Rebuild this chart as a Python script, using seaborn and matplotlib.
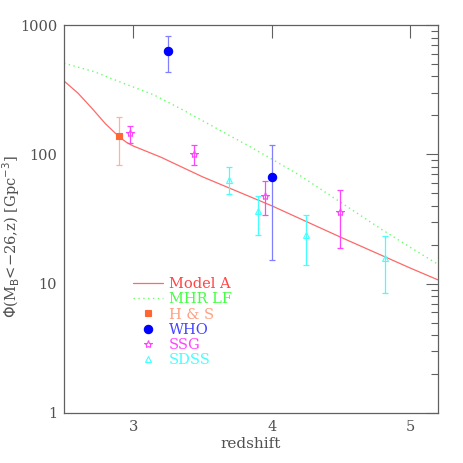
import matplotlib
matplotlib.use("Agg")
import matplotlib.pyplot as plt
import seaborn as sns
import numpy as np
import pandas as pd
from matplotlib.ticker import FixedLocator, NullFormatter, NullLocator

# ---- data ----
modelA_z = [2.5, 2.6, 2.7, 2.8, 2.9, 2.95, 3.0, 3.1, 3.2, 3.5, 4.0, 4.5, 5.0, 5.2]
modelA_phi = [369, 298, 228, 172, 136, 124, 116, 105, 95, 67, 40, 22.8, 13.2, 10.7]

mhr_z = [2.5, 2.72, 2.93, 3.15, 3.36, 3.6, 3.84, 4.0, 4.2, 4.8, 5.0, 5.2]
mhr_phi = [506, 435, 354, 288, 220, 159, 115, 92, 69, 26, 19.1, 14.1]

hs_z = [2.9]
hs_phi = [139]
hs_lo = [83]
hs_hi = [193]

who_z = [3.25, 4.0]
who_phi = [630, 67]
who_lo = [435, 15.3]
who_hi = [817, 118]

ssg_z = [2.98, 3.44, 3.95, 4.49]
ssg_phi = [147, 100, 47.5, 36]
ssg_lo = [123, 82, 33.7, 19]
ssg_hi = [167, 119, 62, 52.7]

sdss_z = [3.69, 3.90, 4.25, 4.82]
sdss_phi = [63, 36.4, 23.8, 15.8]
sdss_lo = [49.3, 23.9, 13.9, 8.45]
sdss_hi = [79.5, 47.5, 33.7, 23.3]

x_ticks = [3, 4, 5]
y_ticks = [1, 10, 100, 1000]
y_ticklabels = ["1", "10", "100", "1000"]

sns.set_theme(style="white")
plt.rcParams['font.family'] = ['DejaVu Serif']
gray = '#606060'

fig = plt.figure(figsize=(4.63, 4.63), dpi=100)
ax = fig.add_axes([64/463, 1-413/463, (438-64)/463, (413-25)/463])

c_model = '#ff6868'
c_mhr = '#66ff66'
c_hs = '#ff6633'
c_hs_err = '#ffb39a'
c_who = '#0000ff'
c_who_err = '#8080ff'
c_ssg = '#ff44ff'
c_sdss = '#44ffff'

dfA = pd.DataFrame({'z': modelA_z, 'phi': modelA_phi})
dfM = pd.DataFrame({'z': mhr_z, 'phi': mhr_phi})
sns.lineplot(data=dfA, x='z', y='phi', ax=ax, color=c_model, lw=0.9, label='Model A')
sns.lineplot(data=dfM, x='z', y='phi', ax=ax, color=c_mhr, lw=1.0, ls=(0, (1, 2.5)), label='MHR LF')

def eb(z, phi, lo, hi, color, ecolor, marker, ms, mfc, label):
    phi = np.array(phi); lo = np.array(lo); hi = np.array(hi)
    ax.errorbar(z, phi, yerr=[phi - lo, hi - phi], fmt='none', ecolor=ecolor,
                elinewidth=0.9, capsize=2.5, capthick=0.9)
    ax.plot(z, phi, ls='none', marker=marker, ms=ms, mfc=mfc, mec=color,
            mew=0.8, label=label)

eb(hs_z, hs_phi, hs_lo, hs_hi, c_hs, c_hs_err, 's', 4, c_hs, 'H & S')
eb(who_z, who_phi, who_lo, who_hi, c_who, c_who_err, 'o', 6, c_who, 'WHO')
eb(ssg_z, ssg_phi, ssg_lo, ssg_hi, c_ssg, c_ssg, '*', 6, 'none', 'SSG')
eb(sdss_z, sdss_phi, sdss_lo, sdss_hi, c_sdss, c_sdss, '^', 4.5, 'none', 'SDSS')

ax.set_yscale('log')
ax.set_xlim(2.5, 5.2)
ax.set_ylim(1, 1000)

ax.xaxis.set_major_locator(FixedLocator(x_ticks))
ax.xaxis.set_minor_locator(NullLocator())
ax.set_xticklabels([str(t) for t in x_ticks])
ax.yaxis.set_major_locator(FixedLocator(y_ticks))
ax.set_yticklabels(y_ticklabels)
minors = [m * 10**e for e in range(0, 3) for m in range(2, 10)]
ax.yaxis.set_minor_locator(FixedLocator(minors))
ax.yaxis.set_minor_formatter(NullFormatter())

ax.tick_params(axis='both', which='major', direction='in', length=9, width=0.8,
               color=gray, labelcolor='#505050', labelsize=10.5,
               top=True, right=True, pad=5)
ax.tick_params(axis='both', which='minor', direction='in', length=5, width=0.8,
               color=gray, top=True, right=True)
for s in ax.spines.values():
    s.set_color(gray)
    s.set_linewidth(0.9)

ax.set_xlabel('redshift', fontsize=11, color='#505050', labelpad=2)
ax.set_ylabel(r'$\Phi$(M$_{\rm B}$<$-$26,z) [Gpc$^{-3}$]', fontsize=10.5,
              color='#505050', labelpad=4)
ax.yaxis.set_label_coords(-0.112, 0.455)

leg = ax.legend(loc='upper left', bbox_to_anchor=(0.184, 0.35), frameon=False,
                fontsize=10.5, handlelength=2.1, handletextpad=0.35,
                labelspacing=0.08, borderpad=0, borderaxespad=0)
text_colors = ['#ff4444', '#44ff44', '#ffa080', '#4444ff', '#ff44ff', '#44ffff']
for t, c in zip(leg.get_texts(), text_colors):
    t.set_color(c)

fig.savefig('out.png', dpi=100)
